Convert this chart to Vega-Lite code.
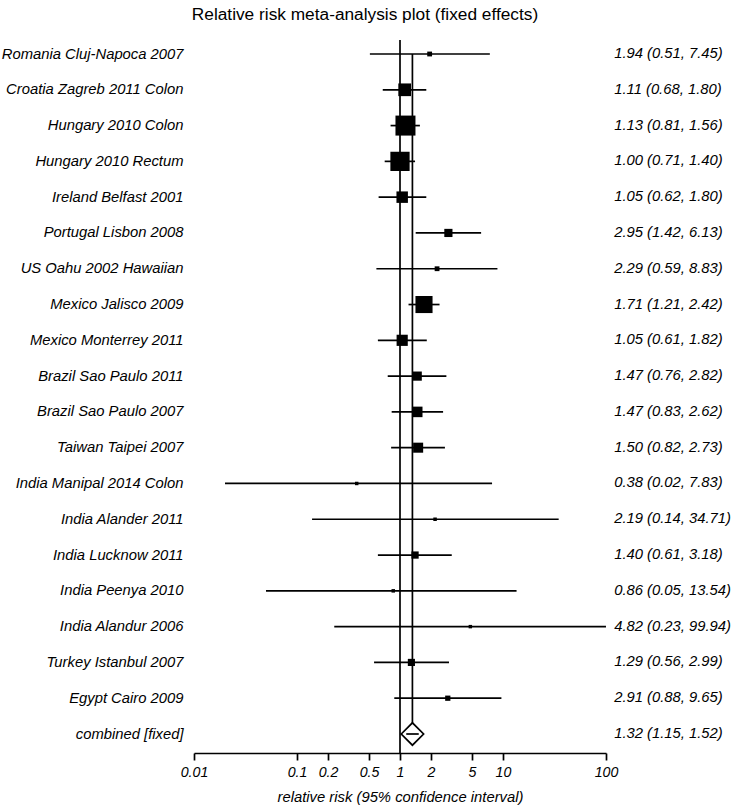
{
  "$schema": "https://vega.github.io/schema/vega-lite/v6.json",
  "autosize": {"type": "none"},
  "padding": {"left": 194, "top": 40, "right": 125, "bottom": 55},
  "width": 412,
  "height": 713,
  "background": "white",
  "config": {"view": {"stroke": null}, "font": "Liberation Sans"},
  "title": {"text": "Relative risk meta-analysis plot (fixed effects)", "font": "Liberation Sans", "fontSize": 17.3, "fontWeight": "normal", "color": "black", "anchor": "middle", "dx": -35, "offset": 16},
  "datasets": {
    "studies": [
      {"study": "Romania Cluj-Napoca 2007", "rr": 1.94, "lo": 0.51, "hi": 7.45, "weight": 1.06, "kind": "study"},
      {"study": "Croatia Zagreb 2011 Colon", "rr": 1.11, "lo": 0.68, "hi": 1.80, "weight": 8.02, "kind": "study"},
      {"study": "Hungary 2010 Colon", "rr": 1.13, "lo": 0.81, "hi": 1.56, "weight": 17.68, "kind": "study"},
      {"study": "Hungary 2010 Rectum", "rr": 1.00, "lo": 0.71, "hi": 1.40, "weight": 16.54, "kind": "study"},
      {"study": "Ireland Belfast 2001", "rr": 1.05, "lo": 0.62, "hi": 1.80, "weight": 6.69, "kind": "study"},
      {"study": "Portugal Lisbon 2008", "rr": 2.95, "lo": 1.42, "hi": 6.13, "weight": 3.56, "kind": "study"},
      {"study": "US Oahu 2002 Hawaiian", "rr": 2.29, "lo": 0.59, "hi": 8.83, "weight": 1.04, "kind": "study"},
      {"study": "Mexico Jalisco 2009", "rr": 1.71, "lo": 1.21, "hi": 2.42, "weight": 13.5, "kind": "study"},
      {"study": "Mexico Monterrey 2011", "rr": 1.05, "lo": 0.61, "hi": 1.82, "weight": 6.39, "kind": "study"},
      {"study": "Brazil Sao Paulo 2011", "rr": 1.47, "lo": 0.76, "hi": 2.82, "weight": 4.43, "kind": "study"},
      {"study": "Brazil Sao Paulo 2007", "rr": 1.47, "lo": 0.83, "hi": 2.62, "weight": 5.74, "kind": "study"},
      {"study": "Taiwan Taipei 2007", "rr": 1.50, "lo": 0.82, "hi": 2.73, "weight": 5.25, "kind": "study"},
      {"study": "India Manipal 2014 Colon", "rr": 0.38, "lo": 0.02, "hi": 7.83, "weight": 0.21, "kind": "study"},
      {"study": "India Alander 2011", "rr": 2.19, "lo": 0.14, "hi": 34.71, "weight": 0.25, "kind": "study"},
      {"study": "India Lucknow 2011", "rr": 1.40, "lo": 0.61, "hi": 3.18, "weight": 2.79, "kind": "study"},
      {"study": "India Peenya 2010", "rr": 0.86, "lo": 0.05, "hi": 13.54, "weight": 0.24, "kind": "study"},
      {"study": "India Alandur 2006", "rr": 4.82, "lo": 0.23, "hi": 99.94, "weight": 0.21, "kind": "study"},
      {"study": "Turkey Istanbul 2007", "rr": 1.29, "lo": 0.56, "hi": 2.99, "weight": 2.71, "kind": "study"},
      {"study": "Egypt Cairo 2009", "rr": 2.91, "lo": 0.88, "hi": 9.65, "weight": 1.33, "kind": "study"},
      {"study": "combined [fixed]", "rr": 1.32, "lo": 1.15, "hi": 1.52, "weight": 100, "kind": "combined"}
    ],
    "nullLine": [{"rr": 1}],
    "pooledLine": [{"rr": 1.32, "from": "Romania Cluj-Napoca 2007", "to": "combined [fixed]"}]
  },
  "layer": [
    {
      "data": {"name": "nullLine"},
      "mark": {"type": "rule", "color": "black", "strokeWidth": 1.7},
      "encoding": {
        "x": {"field": "rr", "type": "quantitative", "scale": {"type": "log", "domain": [0.01, 100]}}
      }
    },
    {
      "data": {"name": "pooledLine"},
      "mark": {"type": "rule", "color": "black", "strokeWidth": 1.7},
      "encoding": {
        "x": {"field": "rr", "type": "quantitative"},
        "y": {"field": "from", "type": "nominal"},
        "y2": {"field": "to"}
      }
    },
    {
      "data": {"name": "studies"},
      "mark": {"type": "rule", "color": "black", "strokeWidth": 1.7},
      "encoding": {
        "x": {
          "field": "lo", "type": "quantitative",
          "scale": {"type": "log", "domain": [0.01, 100]},
          "axis": {
            "values": [0.01, 0.1, 0.2, 0.5, 1, 2, 5, 10, 100],
            "format": "~g",
            "grid": false,
            "labelFlush": false,
            "labelOverlap": false,
            "domainColor": "black", "domainWidth": 1.7,
            "tickColor": "black", "tickWidth": 1.7, "tickSize": 7,
            "labelFont": "Liberation Sans", "labelFontStyle": "italic", "labelFontSize": 14.2, "labelColor": "black", "labelPadding": 5,
            "title": "relative risk (95% confidence interval)",
            "titleFont": "Liberation Sans", "titleFontStyle": "italic", "titleFontWeight": "normal", "titleFontSize": 14.8, "titleColor": "black", "titlePadding": 10
          }
        },
        "x2": {"field": "hi"},
        "y": {
          "field": "study", "type": "nominal",
          "scale": {"type": "point", "padding": 0, "range": [14, 694], "domain": ["Romania Cluj-Napoca 2007", "Croatia Zagreb 2011 Colon", "Hungary 2010 Colon", "Hungary 2010 Rectum", "Ireland Belfast 2001", "Portugal Lisbon 2008", "US Oahu 2002 Hawaiian", "Mexico Jalisco 2009", "Mexico Monterrey 2011", "Brazil Sao Paulo 2011", "Brazil Sao Paulo 2007", "Taiwan Taipei 2007", "India Manipal 2014 Colon", "India Alander 2011", "India Lucknow 2011", "India Peenya 2010", "India Alandur 2006", "Turkey Istanbul 2007", "Egypt Cairo 2009", "combined [fixed]"]},
          "axis": {"title": null, "domain": false, "ticks": false, "grid": false, "labelPadding": 11, "labelFont": "Liberation Sans", "labelFontStyle": "italic", "labelFontSize": 14.8, "labelColor": "black", "labelLimit": 0}
        }
      }
    },
    {
      "data": {"name": "studies"},
      "transform": [{"filter": "datum.kind == 'study'"}],
      "mark": {"type": "point", "shape": "square", "filled": true, "color": "black", "opacity": 1, "strokeWidth": 0},
      "encoding": {
        "x": {"field": "rr", "type": "quantitative"},
        "y": {"field": "study", "type": "nominal"},
        "size": {"field": "weight", "type": "quantitative", "scale": {"type": "pow", "exponent": 1.2, "domain": [0, 17.68], "range": [10, 400]}, "legend": null}
      }
    },
    {
      "data": {"name": "studies"},
      "transform": [{"filter": "datum.kind == 'combined'"}],
      "mark": {"type": "point", "shape": "diamond", "filled": true, "fill": "white", "stroke": "black", "strokeWidth": 1.7, "opacity": 1, "size": 500},
      "encoding": {
        "x": {"field": "rr", "type": "quantitative"},
        "y": {"field": "study", "type": "nominal"}
      }
    },
    {
      "data": {"name": "studies"},
      "transform": [{"filter": "datum.kind == 'combined'"}],
      "mark": {"type": "rule", "color": "black", "strokeWidth": 1.7},
      "encoding": {
        "x": {"field": "lo", "type": "quantitative"},
        "x2": {"field": "hi"},
        "y": {"field": "study", "type": "nominal"}
      }
    },
    {
      "data": {"name": "studies"},
      "transform": [{"calculate": "format(datum.rr, '.2f') + ' (' + format(datum.lo, '.2f') + ', ' + format(datum.hi, '.2f') + ')'", "as": "label"}],
      "mark": {"type": "text", "align": "left", "baseline": "middle", "font": "Liberation Sans", "fontStyle": "italic", "fontSize": 14.8, "color": "black"},
      "encoding": {
        "x": {"datum": 120, "type": "quantitative"},
        "y": {"field": "study", "type": "nominal"},
        "text": {"field": "label"}
      }
    }
  ]
}
